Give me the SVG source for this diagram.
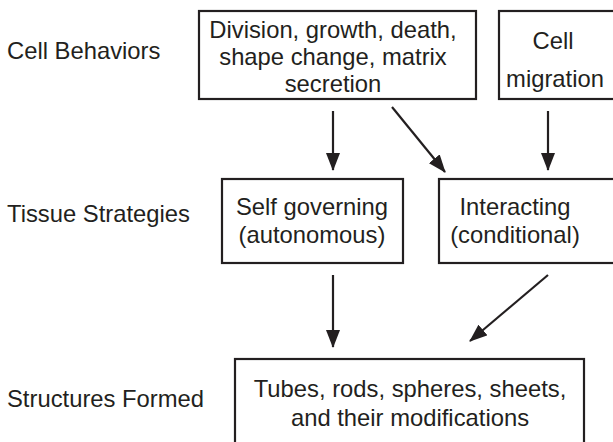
<svg xmlns="http://www.w3.org/2000/svg" width="613" height="442" viewBox="0 0 613 442">
  <style>
    .box { fill: #ffffff; stroke: #231f20; stroke-width: 2.2; }
    .edge { stroke: #231f20; stroke-width: 2.2; fill: none; }
    text { font-family: "Liberation Sans", Arial, sans-serif; font-size: 23.8px; fill: #231f20; }
    .c { text-anchor: middle; }
  </style>
  <defs>
    <marker id="head" viewBox="0 0 18 14" refX="17" refY="7" markerWidth="18" markerHeight="14" markerUnits="userSpaceOnUse" orient="auto">
      <path d="M0,0 L18,7 L0,14 Z" fill="#231f20"/>
    </marker>
  </defs>

  <rect width="613" height="442" fill="#ffffff"/>

  <!-- row labels -->
  <g id="labels">
    <text x="7" y="59">Cell Behaviors</text>
    <text x="7" y="222">Tissue Strategies</text>
    <text x="7" y="407">Structures Formed</text>
  </g>

  <g id="behaviors">
    <rect class="box" x="199" y="11" width="277" height="88"/>
    <text class="c" x="333" y="38">Division, growth, death,</text>
    <text class="c" x="333" y="65">shape change, matrix</text>
    <text class="c" x="333" y="92">secretion</text>
  </g>

  <g id="migration">
    <rect class="box" x="499" y="11" width="120" height="88"/>
    <text class="c" x="553" y="49">Cell</text>
    <text class="c" x="555" y="87">migration</text>
  </g>

  <g id="autonomous">
    <rect class="box" x="222" y="179" width="181" height="84"/>
    <text class="c" x="312" y="215">Self governing</text>
    <text class="c" x="312" y="243">(autonomous)</text>
  </g>

  <g id="conditional">
    <rect class="box" x="439" y="179" width="180" height="84"/>
    <text class="c" x="515" y="215">Interacting</text>
    <text class="c" x="515" y="243">(conditional)</text>
  </g>

  <g id="structures">
    <rect class="box" x="235" y="359" width="349" height="90"/>
    <text class="c" x="410" y="397">Tubes, rods, spheres, sheets,</text>
    <text class="c" x="410" y="426">and their modifications</text>
  </g>

  <g id="connectors">
    <line class="edge" x1="333" y1="111" x2="333" y2="170" marker-end="url(#head)"/>
    <line class="edge" x1="392" y1="107" x2="445" y2="172" marker-end="url(#head)"/>
    <line class="edge" x1="548" y1="111" x2="548" y2="170" marker-end="url(#head)"/>
    <line class="edge" x1="333" y1="275" x2="333" y2="347" marker-end="url(#head)"/>
    <line class="edge" x1="548" y1="275" x2="470" y2="341" marker-end="url(#head)"/>
  </g>
</svg>
